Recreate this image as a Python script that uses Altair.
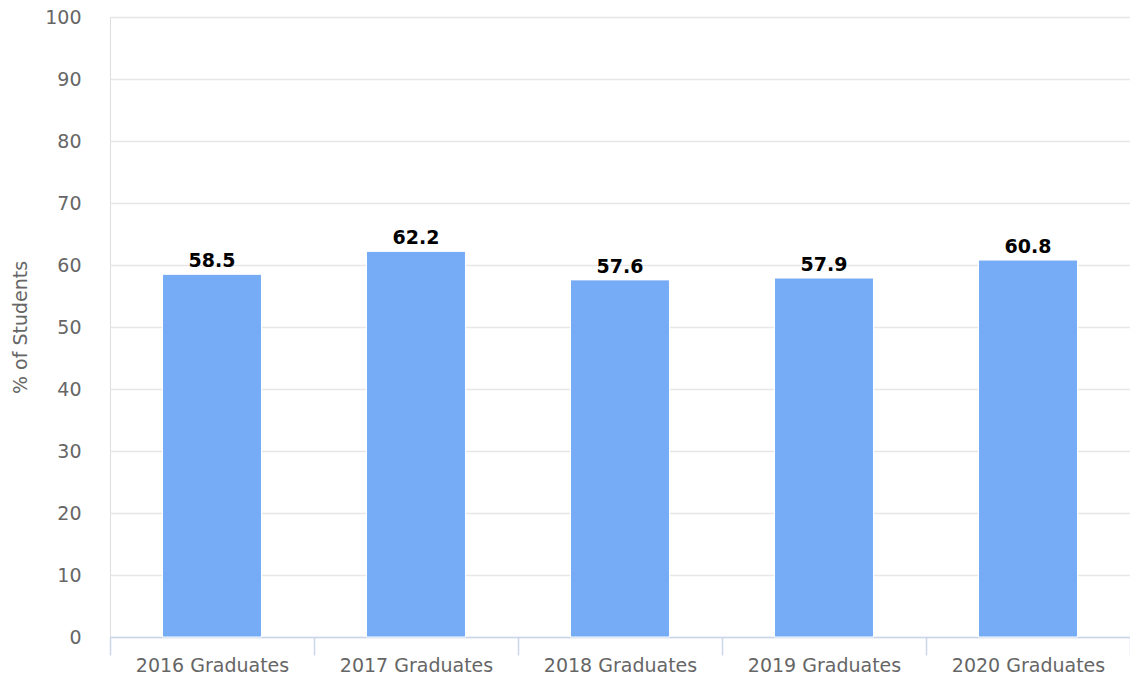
import altair as alt
import pandas as pd

categories = ["2016 Graduates", "2017 Graduates", "2018 Graduates", "2019 Graduates", "2020 Graduates"]
values = [58.5, 62.2, 57.6, 57.9, 60.8]

df = pd.DataFrame({"cat": categories, "val": values})

FONT = "DejaVu Sans"

x = alt.X("cat:N", sort=categories, title=None,
          scale=alt.Scale(paddingInner=0, paddingOuter=0),
          axis=alt.Axis(labelAngle=0, labelFontSize=19, labelColor="#666666", labelFont=FONT,
                        domainColor="#ccd6eb", domainWidth=1.5, tickColor="#ccd6eb", tickSize=18,
                        tickWidth=1.5, tickBand="extent", labelPadding=1, grid=False))
y = alt.Y("val:Q", title="% of Students",
          scale=alt.Scale(domain=[0, 100], nice=False),
          axis=alt.Axis(values=list(range(0, 101, 10)), labelFontSize=19, labelColor="#666666",
                        labelFont=FONT, domain=False, ticks=False, labelPadding=29,
                        gridColor="#e6e6e6", gridWidth=1.5,
                        titleFontSize=19, titleFontWeight="normal", titleColor="#666666",
                        titleFont=FONT, titleX=-90, titleY=310, titleAngle=-90,
                        titleAlign="center", titleBaseline="middle"))

bars = alt.Chart(df).mark_bar(color="#76abf5", stroke="white", strokeWidth=1,
                              width=alt.RelativeBandSize(0.485)).encode(x=x, y=y)
labels = alt.Chart(df).mark_text(baseline="bottom", dy=-3, fontSize=19, fontWeight="bold",
                                 font=FONT, color="#000000").encode(
    x=alt.X("cat:N", sort=categories), y="val:Q", text=alt.Text("val:Q", format=".1f"))

chart = (bars + labels).properties(
    width=1020, height=620,
    autosize=alt.AutoSizeParams(type="none"),
    padding={"left": 110, "top": 17, "right": 0, "bottom": 42},
).configure_view(stroke=None).configure(background="white")

chart.save("out.html", embed_options={"renderer": "svg", "actions": False})
